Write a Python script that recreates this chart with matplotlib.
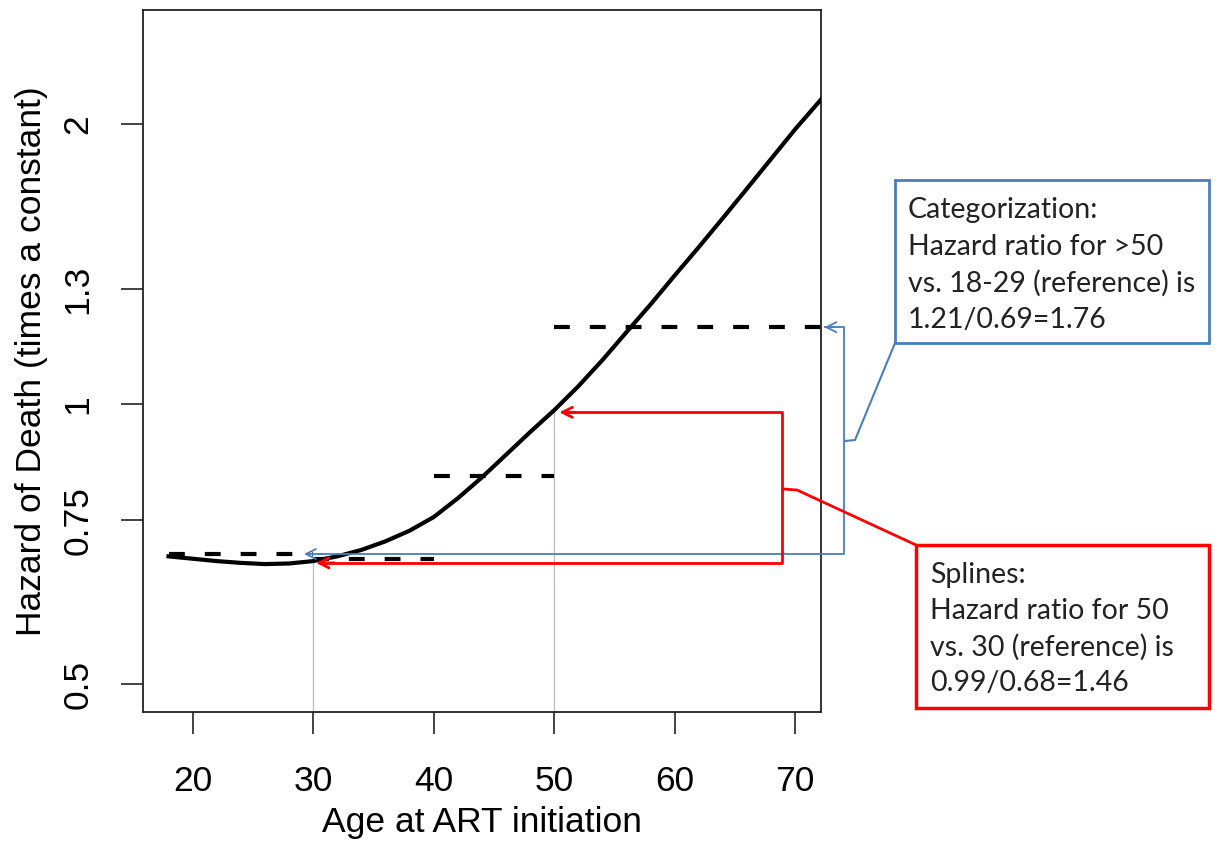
import matplotlib
matplotlib.use('Agg')
import matplotlib.pyplot as plt
from matplotlib.patches import Rectangle
from matplotlib.lines import Line2D

# spline estimate of hazard vs age
age = [18, 20, 22, 24, 26, 28, 30, 32, 34, 36, 38, 40, 42, 44, 46, 48, 50,
       52, 54, 56, 58, 60, 62, 64, 66, 68, 70, 72.2]
hazard = [0.686, 0.682, 0.678, 0.675, 0.673, 0.674, 0.678, 0.686, 0.697, 0.712,
          0.731, 0.756, 0.792, 0.834, 0.882, 0.933, 0.985, 1.045, 1.115, 1.195,
          1.28, 1.375, 1.475, 1.585, 1.705, 1.835, 1.975, 2.13]

# categorical hazards (dashed steps)
cat_start = [18, 30, 40, 50]
cat_end = [30, 40, 50, 72.2]
cat_hazard = [0.69, 0.682, 0.838, 1.21]

# reference ages with drop lines to the spline
ref_age = [30, 50]
ref_hazard = [0.678, 0.98]

ytick_vals = [0.5, 0.75, 1, 1.33, 2]
ytick_labels = ['0.5', '0.75', '1', '1.3', '2']
xtick_vals = [20, 30, 40, 50, 60, 70]

blue_lines = ['Categorization:', 'Hazard ratio for >50',
              'vs. 18-29 (reference) is', '1.21/0.69=1.76']
red_lines = ['Splines:', 'Hazard ratio for 50',
             'vs. 30 (reference) is', '0.99/0.68=1.46']

W, H = 1217, 851
BLUE = '#4a7ebb'
RED = '#ff0000'

plt.rcParams['font.family'] = ['Liberation Sans', 'DejaVu Sans']

fig = plt.figure(figsize=(W / 100, H / 100), dpi=100)
ax = fig.add_axes([143 / W, 1 - 712 / H, (821 - 143) / W, (712 - 10) / H])


def px(x, y):
    # reference pixel -> figure fraction
    return (x / W, 1 - y / H)


ax.set_yscale('log')
ax.set_xlim(15.88, 72.15)
ax.set_ylim(0.4666, 2.654)

# gray drop lines
for a, h in zip(ref_age, ref_hazard):
    ax.plot([a, a], [0.4666, h], color='#bbbbbb', lw=0.9, zorder=1)

# dashed categorical steps
for s, e, h in zip(cat_start, cat_end, cat_hazard):
    ax.plot([s, e], [h, h], color='black', lw=3, ls=(0, (3.8, 4.8)),
            dash_capstyle='butt', zorder=2)

ax.plot(age, hazard, color='black', lw=3, zorder=3, solid_joinstyle='round')

ax.set_xticks(xtick_vals)
ax.set_xticklabels([str(v) for v in xtick_vals])
ax.set_yticks(ytick_vals)
ax.set_yticklabels(ytick_labels, rotation=90, va='center')
ax.minorticks_off()
ax.tick_params(axis='x', length=16, width=1.2, pad=22, labelsize=25.5, color='#222222')
ax.tick_params(axis='y', length=16, width=1.2, pad=19, labelsize=25.5, color='#222222')
for sp in ax.spines.values():
    sp.set_linewidth(1.3)
    sp.set_color('#222222')

ax.set_xlabel('Age at ART initiation', fontsize=25.5)
ax.set_ylabel('Hazard of Death (times a constant)', fontsize=25.5)
ax.xaxis.set_label_coords(0.5, -0.134)
ax.yaxis.set_label_coords(-0.140, 0.5)

# blue bracket (categorization)
bx = 74.1
ax.plot([72.5, bx, bx, 30.5], [1.21, 1.21, 0.69, 0.69], color=BLUE, lw=1.3,
        clip_on=False, zorder=4)
ax.annotate('', xy=(72.2, 1.21), xytext=(73.5, 1.21),
            arrowprops=dict(arrowstyle='->', color=BLUE, lw=1.3, mutation_scale=18),
            annotation_clip=False)
ax.annotate('', xy=(29.0, 0.69), xytext=(31.0, 0.69),
            arrowprops=dict(arrowstyle='->', color=BLUE, lw=1.3, mutation_scale=18),
            annotation_clip=False)

# red bracket (splines)
rx = 68.9
ax.plot([51.0, rx, rx, 31.0], [0.98, 0.98, 0.675, 0.675], color=RED, lw=2,
        clip_on=False, zorder=4)
ax.annotate('', xy=(50.2, 0.98), xytext=(52.0, 0.98),
            arrowprops=dict(arrowstyle='->', color=RED, lw=2, mutation_scale=18),
            annotation_clip=False)
ax.annotate('', xy=(30.0, 0.675), xytext=(32.0, 0.675),
            arrowprops=dict(arrowstyle='->', color=RED, lw=2, mutation_scale=18),
            annotation_clip=False)

# connectors to the boxes
bxs, bys = zip(*[px(845, 441), px(855, 440), px(895, 343)])
fig.add_artist(Line2D(bxs, bys, color=BLUE, lw=1.5, transform=fig.transFigure))
rxs, rys = zip(*[px(783, 489), px(797, 490), px(916, 545)])
fig.add_artist(Line2D(rxs, rys, color=RED, lw=2, transform=fig.transFigure))

# boxes
x0, y0 = px(895, 343)
fig.add_artist(Rectangle((x0, y0), (1209 - 895) / W, (343 - 180) / H, fill=False,
                         edgecolor=BLUE, lw=2, transform=fig.transFigure))
x0, y0 = px(916, 708)
fig.add_artist(Rectangle((x0, y0), (1209 - 916) / W, (708 - 545) / H, fill=False,
                         edgecolor=RED, lw=2.5, transform=fig.transFigure))

for i, t in enumerate(blue_lines):
    fig.text(*px(908, 210 + 36.7 * i), t, fontsize=20.5, family='Lato',
             va='center', ha='left', color='#222222')
for i, t in enumerate(red_lines):
    fig.text(*px(930, 575 + 36 * i), t, fontsize=20.5, family='Lato',
             va='center', ha='left', color='#222222')

fig.savefig('out.png', dpi=100)
